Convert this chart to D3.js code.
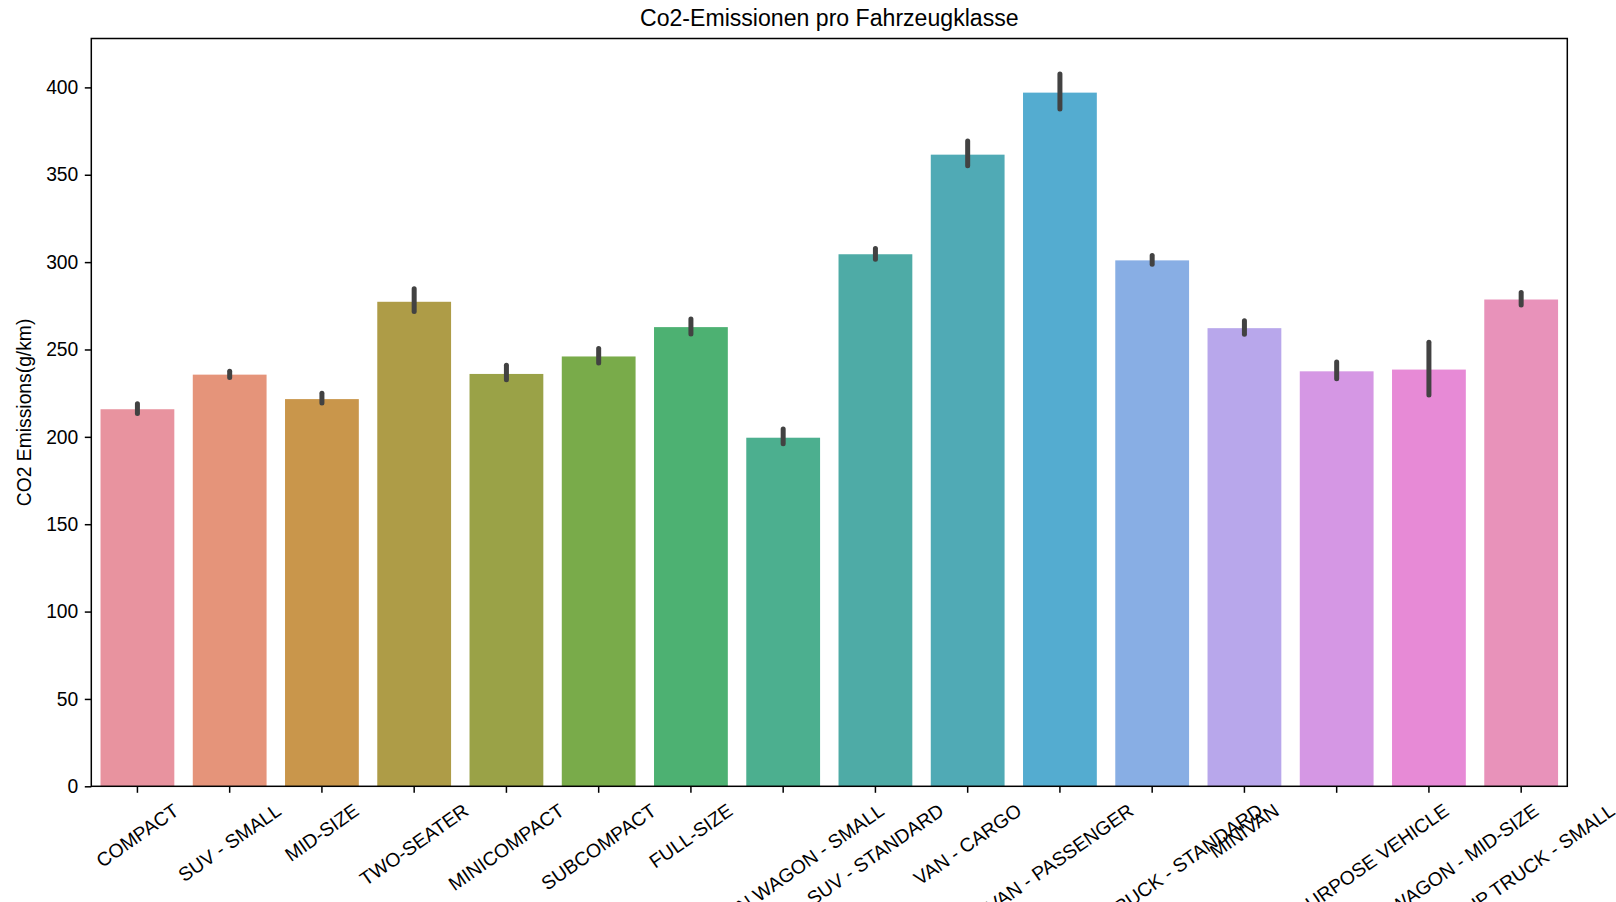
<!DOCTYPE html>
<html>
<head>
<meta charset="utf-8">
<script src="https://cdn.jsdelivr.net/npm/d3@7"></script>
<style>
  html, body { margin: 0; padding: 0; background: #ffffff; }
  svg { display: block; }
  text { font-family: "Liberation Sans", Arial, Helvetica, sans-serif; fill: #000; }
</style>
</head>
<body>
<svg id="chart" width="1616" height="902"></svg>
<script>
// Vehicle classes in the order they appear in the data
const categories = [
  "COMPACT", "SUV - SMALL", "MID-SIZE", "TWO-SEATER", "MINICOMPACT",
  "SUBCOMPACT", "FULL-SIZE", "STATION WAGON - SMALL", "SUV - STANDARD",
  "VAN - CARGO", "VAN - PASSENGER", "PICKUP TRUCK - STANDARD", "MINIVAN",
  "SPECIAL PURPOSE VEHICLE", "STATION WAGON - MID-SIZE", "PICKUP TRUCK - SMALL"
];

// Mean CO2 emissions (g/km) per class
const meanValues = [
  215.8, 235.6, 221.6, 277.3, 236.0, 246.0, 262.8, 199.5,
  304.5, 361.5, 397.0, 301.0, 262.2, 237.5, 238.5, 278.6
];

// 95% confidence interval bounds of the mean
const ciLow = [
  213.3, 234.0, 219.3, 271.8, 232.7, 242.3, 258.9, 196.1,
  301.6, 355.1, 387.6, 298.8, 258.7, 233.3, 224.0, 275.5
];
const ciHigh = [
  219.0, 237.6, 225.0, 284.8, 241.0, 250.6, 267.4, 204.5,
  307.8, 369.3, 407.6, 303.8, 266.5, 242.8, 254.1, 282.6
];

const yTicks = [0, 50, 100, 150, 200, 250, 300, 350, 400];

// husl palette, desaturated
const barColors = [
  "#e8939f", "#e5947a", "#c9964b", "#ae9c47", "#9aa247", "#79ab4a",
  "#4db172", "#4caf8f", "#4eaba6", "#50aab5", "#54acd0", "#88aee4",
  "#b8a7eb", "#d597e4", "#e78ad6", "#e892ba"
];

const chartTitle = "Co2-Emissionen pro Fahrzeugklasse";
const yLabel = "CO2 Emissions(g/km)";

const svg = d3.select("#chart");
const plotLeft = 91.3, plotRight = 1567.3, plotTop = 38.5, plotBottom = 786.3;
const tickFont = 19.3;
const labelAngle = 35;

const x = d3.scaleBand()
  .domain(categories)
  .range([plotLeft, plotRight])
  .paddingInner(0.2)
  .paddingOuter(0.1);

const yMax = d3.max(ciHigh) * 1.05;
const y = d3.scaleLinear().domain([0, yMax]).range([plotBottom, plotTop]);

const rows = categories.map((c, i) => ({
  cat: c, mean: meanValues[i], lo: ciLow[i], hi: ciHigh[i], color: barColors[i]
}));

// bars
svg.append("g").selectAll("rect")
  .data(rows)
  .join("rect")
  .attr("x", d => x(d.cat))
  .attr("width", x.bandwidth())
  .attr("y", d => y(d.mean))
  .attr("height", d => y(0) - y(d.mean))
  .attr("fill", d => d.color);

// confidence interval lines
svg.append("g").selectAll("line")
  .data(rows)
  .join("line")
  .attr("x1", d => x(d.cat) + x.bandwidth() / 2)
  .attr("x2", d => x(d.cat) + x.bandwidth() / 2)
  .attr("y1", d => y(d.lo))
  .attr("y2", d => y(d.hi))
  .attr("stroke", "#424242")
  .attr("stroke-width", 5)
  .attr("stroke-linecap", "round");

// y axis
const yAxis = svg.append("g")
  .attr("transform", `translate(${plotLeft},0)`)
  .call(d3.axisLeft(y).tickValues(yTicks).tickSize(6.5).tickPadding(6.5).tickFormat(d3.format("d")));
yAxis.select(".domain").remove();
yAxis.selectAll(".tick line").attr("stroke", "#000").attr("stroke-width", 1.5);
yAxis.selectAll(".tick text")
  .attr("font-size", tickFont)
  .attr("font-family", "Liberation Sans, Arial, sans-serif")
  .attr("fill", "#000");

// x axis
const xAxis = svg.append("g")
  .attr("transform", `translate(0,${plotBottom})`)
  .call(d3.axisBottom(x).tickSize(6.5).tickFormat(""));
xAxis.select(".domain").remove();
xAxis.selectAll(".tick line").attr("stroke", "#000").attr("stroke-width", 1.5);

// rotated category labels, centred under each tick
const angle = labelAngle * Math.PI / 180;
const labelTop = plotBottom + 6.5 + 6.5;
const lineH = tickFont * 1.15;
const xLabels = svg.append("g");
categories.forEach(c => {
  const t = xLabels.append("text")
    .attr("font-size", tickFont)
    .attr("text-anchor", "middle")
    .attr("dominant-baseline", "central")
    .text(c);
  const w = t.node().getComputedTextLength();
  const boxH = w * Math.sin(angle) + lineH * Math.cos(angle);
  const cx = x(c) + x.bandwidth() / 2;
  const cy = labelTop + boxH / 2;
  t.attr("transform", `translate(${cx},${cy}) rotate(${-labelAngle})`);
});

// frame
svg.append("rect")
  .attr("x", plotLeft).attr("y", plotTop)
  .attr("width", plotRight - plotLeft).attr("height", plotBottom - plotTop)
  .attr("fill", "none").attr("stroke", "#000").attr("stroke-width", 1.5);

// title
svg.append("text")
  .attr("x", (plotLeft + plotRight) / 2)
  .attr("y", 26)
  .attr("text-anchor", "middle")
  .attr("font-size", 23.1)
  .text(chartTitle);

// y label
svg.append("text")
  .attr("transform", `translate(24.5,${(plotTop + plotBottom) / 2}) rotate(-90)`)
  .attr("text-anchor", "middle")
  .attr("dominant-baseline", "central")
  .attr("font-size", tickFont)
  .text(yLabel);
</script>
</body>
</html>
